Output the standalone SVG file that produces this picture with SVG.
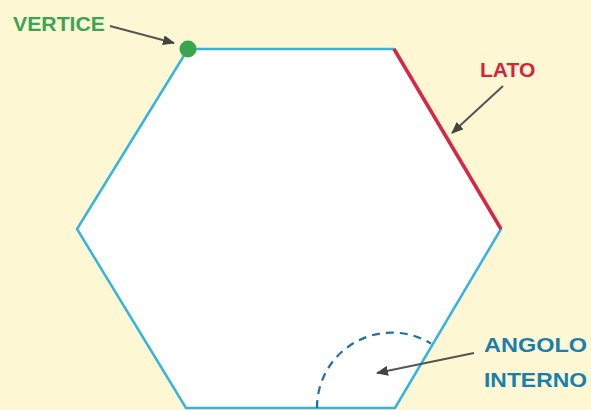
<svg xmlns="http://www.w3.org/2000/svg" width="591" height="410" viewBox="0 0 591 410">
<style>
.lbl{font-family:"Liberation Sans",Arial,sans-serif;font-weight:bold;font-size:21px}
.arr{stroke:#555;stroke-width:2;fill:none}
</style>
<defs>
<marker id="ah" viewBox="0 0 12 10" refX="11" refY="5" markerWidth="12" markerHeight="10" markerUnits="userSpaceOnUse" orient="auto">
<path d="M0,0 L12,5 L0,10 Z" fill="#444"/>
</marker>
</defs>
<rect width="591" height="410" fill="#fdf7d3"/>
<g id="hexagon">
<polygon points="188,49 394,49 501,229 395,408 186,408 77,229" fill="#ffffff" stroke="#33b5e0" stroke-width="2.5" stroke-linejoin="miter"/>
<line x1="394" y1="49" x2="501" y2="229" stroke="#d92645" stroke-width="3.5"/>
<path d="M317,408 A75,75 0 0 1 431,343.5" fill="none" stroke="#1f6fa8" stroke-width="2.2" stroke-dasharray="8,6"/>
<circle cx="188" cy="49" r="8.5" fill="#37a64f"/>
</g>
<g id="connectors">
<line class="arr" x1="110" y1="26" x2="174" y2="43" marker-end="url(#ah)"/>
<line class="arr" x1="503" y1="86" x2="452" y2="133" marker-end="url(#ah)"/>
<line class="arr" x1="474" y1="353" x2="377" y2="373" marker-end="url(#ah)"/>
</g>
<g id="label-vertice"><text class="lbl" x="13" y="31" fill="#3aa553" textLength="92" lengthAdjust="spacingAndGlyphs">VERTICE</text></g>
<g id="label-lato"><text class="lbl" x="480" y="77" fill="#d4243f">LATO</text></g>
<g id="label-angolo">
<text class="lbl" x="484" y="352" fill="#1b7fab" textLength="103" lengthAdjust="spacingAndGlyphs">ANGOLO</text>
<text class="lbl" x="484" y="387" fill="#1b7fab" textLength="103" lengthAdjust="spacingAndGlyphs">INTERNO</text>
</g>
</svg>
